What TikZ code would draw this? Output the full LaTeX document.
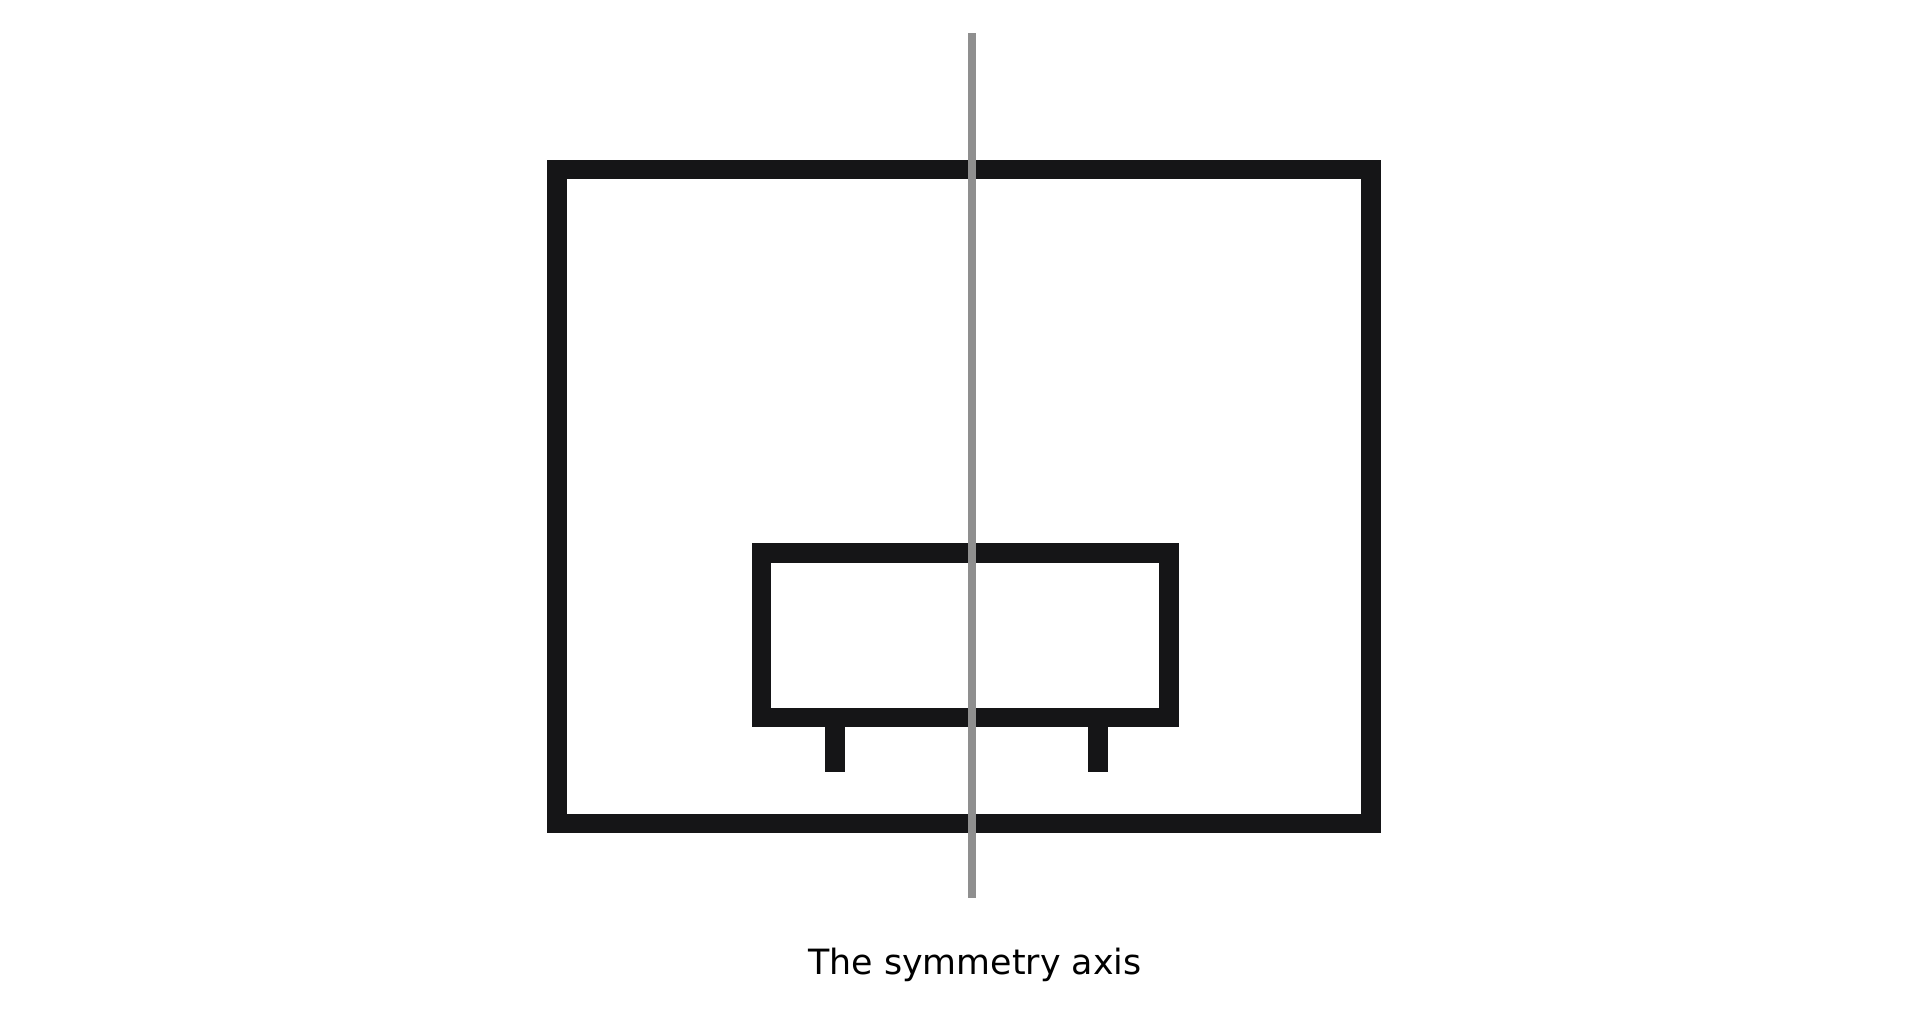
\documentclass[tikz,border=0pt]{standalone}
\usepackage{fontspec}
\newfontfamily\labelfont{DejaVu Sans}
\definecolor{framegray}{HTML}{151517}
\definecolor{axisgray}{HTML}{8F8F8F}

\begin{document}
\begin{tikzpicture}[x=0.01cm,y=-0.01cm,
        frame/.style={draw=framegray,line width=0.195cm},
        leg/.style={fill=framegray},
        axisline/.style={draw=axisgray,line width=0.08cm}]
            \useasboundingbox (0,0) rectangle (1920,1012);

            % outer box
            \draw[frame] (557,169.5) rectangle (1371,823.5);

            % bench
            \draw[frame] (761.5,553) rectangle (1169,717.5);
            \fill[leg] (825,717) rectangle (845,772);
            \fill[leg] (1088,717) rectangle (1108,772);

            % axis
            \coordinate (axistop) at (972,33);
            \coordinate (axisbot) at (972,898);
            \draw[axisline] (axistop) -- (axisbot);
            \node[anchor=base,inner sep=0pt] (axislabel) at (975,974) {\labelfont\fontsize{9.9pt}{12pt}\selectfont The symmetry axis};
        \end{tikzpicture}
\end{document}
